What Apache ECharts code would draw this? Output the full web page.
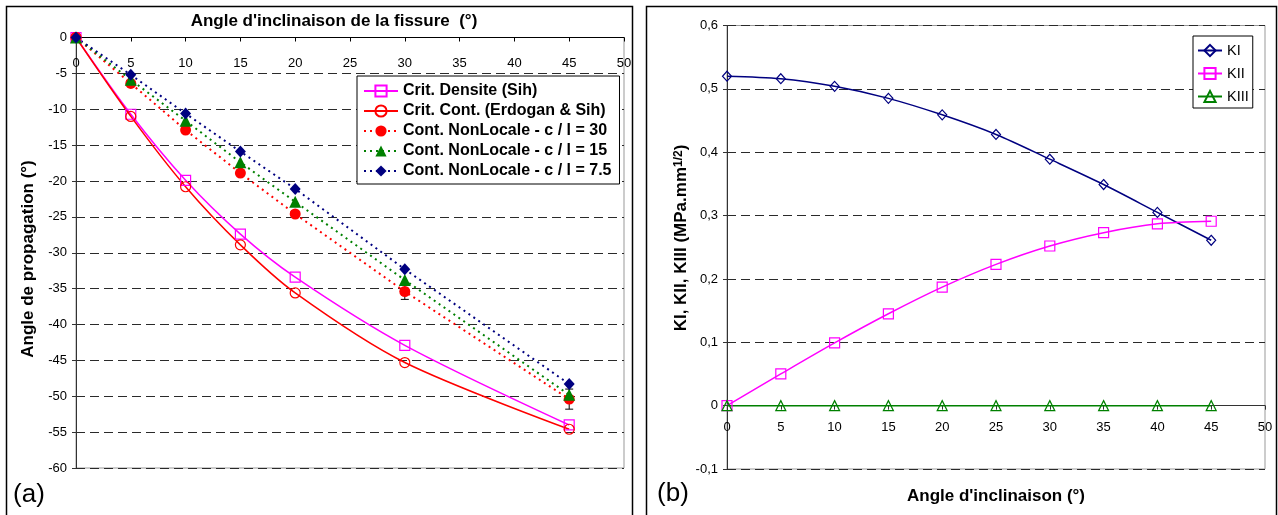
<!DOCTYPE html>
<html>
<head>
<meta charset="utf-8">
<script src="https://cdn.jsdelivr.net/npm/echarts@6/dist/echarts.min.js"></script>
<style>
  html, body { margin: 0; padding: 0; background: #fff; }
  #chart { width: 1278px; height: 515px; }
</style>
</head>
<body>
<div id="chart"></div>
<script>
// (a) angle de propagation vs angle d'inclinaison
const angA = [0, 5, 10, 15, 20, 30, 45]
const densite = [0, -10.7, -19.9, -27.4, -33.4, -42.9, -54.0]
const erdogan = [0, -11.0, -20.8, -28.9, -35.6, -45.3, -54.6]
const nl30 = [0, -6.4, -12.9, -18.9, -24.6, -35.4, -50.4]
const nl30Err = [0, 0, 0, 0, 0, 1.1, 1.4]
const nl15 = [0, -5.9, -11.6, -17.4, -22.9, -33.8, -49.8]
const nl75 = [0, -5.2, -10.6, -15.9, -21.1, -32.3, -48.3]
const namesA = ['Crit. Densite (Sih)', 'Crit. Cont. (Erdogan & Sih)',
    'Cont. NonLocale - c / l = 30', 'Cont. NonLocale - c / l = 15', 'Cont. NonLocale - c / l = 7.5']

// (b) facteurs d'intensite
const angB = [0, 5, 10, 15, 20, 25, 30, 35, 40, 45]
const KI = [0.520, 0.516, 0.504, 0.485, 0.459, 0.428, 0.389, 0.349, 0.305, 0.261]
const KII = [0, 0.050, 0.099, 0.145, 0.187, 0.223, 0.252, 0.273, 0.287, 0.291]
const KIII = [0, 0, 0, 0, 0, 0, 0, 0, 0, 0]
const namesB = ['KI', 'KII', 'KIII']

const FONT = '"Liberation Sans", Arial, sans-serif'
const pairs = (xs, ys) => xs.map((x, i) => [x, ys[i]])

// plot areas
const gA = { left: 76, top: 37.5, width: 548, height: 430.5 }
const gB = { left: 727, top: 25.5, width: 538, height: 443.5 }
const yA = { min: -60, max: 0 }
const yB = { min: -0.1, max: 0.6 }
// x axes drawn on the y = 0 line
const zeroOffset = (g, y) => -g.height * (0 - y.min) / (y.max - y.min)

const tickLabel = { fontSize: 13, color: '#000', fontFamily: FONT }
const gridDash = { lineStyle: { color: '#2a2a2a', type: [9, 5], width: 1 } }
const boldTxt = 'bold 17px ' + FONT

const lineSeries = (name, xs, ys, idx, color, symbol, size, dotted, filled) => ({
    name: name,
    type: 'line',
    xAxisIndex: idx,
    yAxisIndex: idx,
    data: pairs(xs, ys),
    symbol: symbol,
    symbolSize: size,
    smooth: dotted ? false : 0.3,
    lineStyle: { color: color, width: dotted ? 2 : 1.5, type: dotted ? [2, 4] : 'solid' },
    itemStyle: filled
        ? { color: color, borderColor: color, borderWidth: 0 }
        : { color: 'rgba(255,255,255,0)', borderColor: color, borderWidth: 1.2 },
    z: 3
})

const errData = angA.map((x, i) => [x, nl30[i] - nl30Err[i], nl30[i] + nl30Err[i]])
    .filter((d, i) => nl30Err[i] > 0)

let chart = echarts.init(document.getElementById('chart'))
chart.setOption({
    animation: false,
    textStyle: { fontFamily: FONT },
    grid: [
        Object.assign({ show: true, borderColor: '#999', borderWidth: 1, outerBoundsMode: 'none' }, gA),
        Object.assign({ show: true, borderColor: '#999', borderWidth: 1, outerBoundsMode: 'none' }, gB)
    ],
    xAxis: [
        {
            gridIndex: 0, type: 'value', min: 0, max: 50, interval: 5,
            position: 'bottom', offset: zeroOffset(gA, yA),
            axisLine: { onZero: false, lineStyle: { color: '#000', width: 1 } },
            axisTick: { show: true, length: 4, lineStyle: { color: '#000' } },
            axisLabel: Object.assign({ margin: 19 }, tickLabel),
            splitLine: { show: false }
        },
        {
            gridIndex: 1, type: 'value', min: 0, max: 50, interval: 5,
            position: 'bottom', offset: zeroOffset(gB, yB),
            axisLine: { onZero: false, lineStyle: { color: '#333', width: 1 } },
            axisTick: { show: true, length: 4, lineStyle: { color: '#333' } },
            axisLabel: Object.assign({ margin: 15 }, tickLabel),
            splitLine: { show: false }
        }
    ],
    yAxis: [
        {
            gridIndex: 0, type: 'value', min: yA.min, max: yA.max, interval: 5,
            axisLine: { show: true, onZero: false, lineStyle: { color: '#333', width: 1 } },
            axisTick: { show: true, length: 4, lineStyle: { color: '#333' } },
            axisLabel: Object.assign({ margin: 9 }, tickLabel),
            splitLine: Object.assign({ show: true }, gridDash)
        },
        {
            gridIndex: 1, type: 'value', min: yB.min, max: yB.max, interval: 0.1,
            axisLine: { show: true, onZero: false, lineStyle: { color: '#333', width: 1 } },
            axisTick: { show: true, length: 4, lineStyle: { color: '#333' } },
            axisLabel: Object.assign({
                margin: 9,
                formatter: v => String(+v.toFixed(1)).replace('.', ',')
            }, tickLabel),
            splitLine: Object.assign({ show: true }, gridDash)
        }
    ],
    legend: [
        {
            data: namesA,
            orient: 'vertical',
            left: 357, top: 76,
            itemWidth: 34, itemHeight: 14, itemGap: 4,
            padding: [7, 8, 5, 6],
            borderColor: '#000', borderWidth: 1, backgroundColor: '#fff',
            textStyle: { fontSize: 16, fontWeight: 'bold', color: '#000', fontFamily: FONT, lineHeight: 16 }
        },
        {
            data: namesB,
            orient: 'vertical',
            left: 1193, top: 36,
            itemWidth: 24, itemHeight: 14, itemGap: 8,
            padding: [7, 4, 4, 4],
            borderColor: '#000', borderWidth: 1, backgroundColor: '#fff',
            textStyle: { fontSize: 14.5, color: '#000', fontFamily: FONT, lineHeight: 14 }
        }
    ],
    series: [
        {
            type: 'custom',
            xAxisIndex: 0, yAxisIndex: 0,
            data: errData,
            z: 1,
            renderItem: (params, api) => {
                let lo = api.coord([api.value(0), api.value(1)])
                let hi = api.coord([api.value(0), api.value(2)])
                let st = { stroke: '#000', lineWidth: 1 }
                return {
                    type: 'group',
                    children: [
                        { type: 'line', shape: { x1: lo[0], y1: lo[1], x2: hi[0], y2: hi[1] }, style: st },
                        { type: 'line', shape: { x1: lo[0] - 4, y1: lo[1], x2: lo[0] + 4, y2: lo[1] }, style: st },
                        { type: 'line', shape: { x1: hi[0] - 4, y1: hi[1], x2: hi[0] + 4, y2: hi[1] }, style: st }
                    ]
                }
            }
        },
        lineSeries(namesA[0], angA, densite, 0, '#FF00FF', 'rect', 10, false, false),
        lineSeries(namesA[1], angA, erdogan, 0, '#FF0000', 'circle', 10, false, false),
        lineSeries(namesA[2], angA, nl30, 0, '#FF0000', 'circle', 11, true, true),
        lineSeries(namesA[3], angA, nl15, 0, '#008000', 'triangle', 12, true, true),
        lineSeries(namesA[4], angA, nl75, 0, '#000080', 'diamond', [11, 12], true, true),
        lineSeries(namesB[0], angB, KI, 1, '#000080', 'diamond', [9, 10], false, false),
        lineSeries(namesB[1], angB, KII, 1, '#FF00FF', 'rect', 10, false, false),
        lineSeries(namesB[2], angB, KIII, 1, '#008000', 'triangle', 10, false, false)
    ],
    graphic: [
        { type: 'rect', shape: { x: 6.5, y: 6.5, width: 626, height: 530 }, style: { fill: 'none', stroke: '#000', lineWidth: 1.5 }, z: -10 },
        { type: 'rect', shape: { x: 646.5, y: 6.5, width: 630, height: 530 }, style: { fill: 'none', stroke: '#000', lineWidth: 1.5 }, z: -10 },
        {
            type: 'text', x: 334, y: 21,
            style: { text: "Angle d'inclinaison de la fissure  (°)", font: boldTxt, fill: '#000',
                align: 'center', verticalAlign: 'middle', textAlign: 'center', textVerticalAlign: 'middle' }
        },
        {
            type: 'text', x: 28, y: 259, rotation: Math.PI / 2,
            style: { text: 'Angle de propagation (°)', font: boldTxt, fill: '#000',
                align: 'center', verticalAlign: 'middle', textAlign: 'center', textVerticalAlign: 'middle' }
        },
        {
            type: 'text', x: 29, y: 495,
            style: { text: '(a)', font: '26px ' + FONT, fill: '#000',
                align: 'center', verticalAlign: 'middle', textAlign: 'center', textVerticalAlign: 'middle' }
        },
        {
            type: 'text', x: 673, y: 494,
            style: { text: '(b)', font: '26px ' + FONT, fill: '#000',
                align: 'center', verticalAlign: 'middle', textAlign: 'center', textVerticalAlign: 'middle' }
        },
        {
            type: 'text', x: 996, y: 496,
            style: { text: "Angle d'inclinaison (°)", font: boldTxt, fill: '#000',
                align: 'center', verticalAlign: 'middle', textAlign: 'center', textVerticalAlign: 'middle' }
        },
        {
            type: 'text', x: 681, y: 238, rotation: Math.PI / 2,
            style: {
                text: '{a|KI, KII, KIII (MPa.mm}{s|1/2}{a|)}',
                rich: {
                    a: { fontSize: 17, fontWeight: 'bold', fontFamily: FONT, fill: '#000', color: '#000' },
                    s: { fontSize: 12, fontWeight: 'bold', fontFamily: FONT, fill: '#000', color: '#000', verticalAlign: 'top' }
                },
                align: 'center', verticalAlign: 'middle', textAlign: 'center', textVerticalAlign: 'middle'
            }
        }
    ]
})
</script>
</body>
</html>
